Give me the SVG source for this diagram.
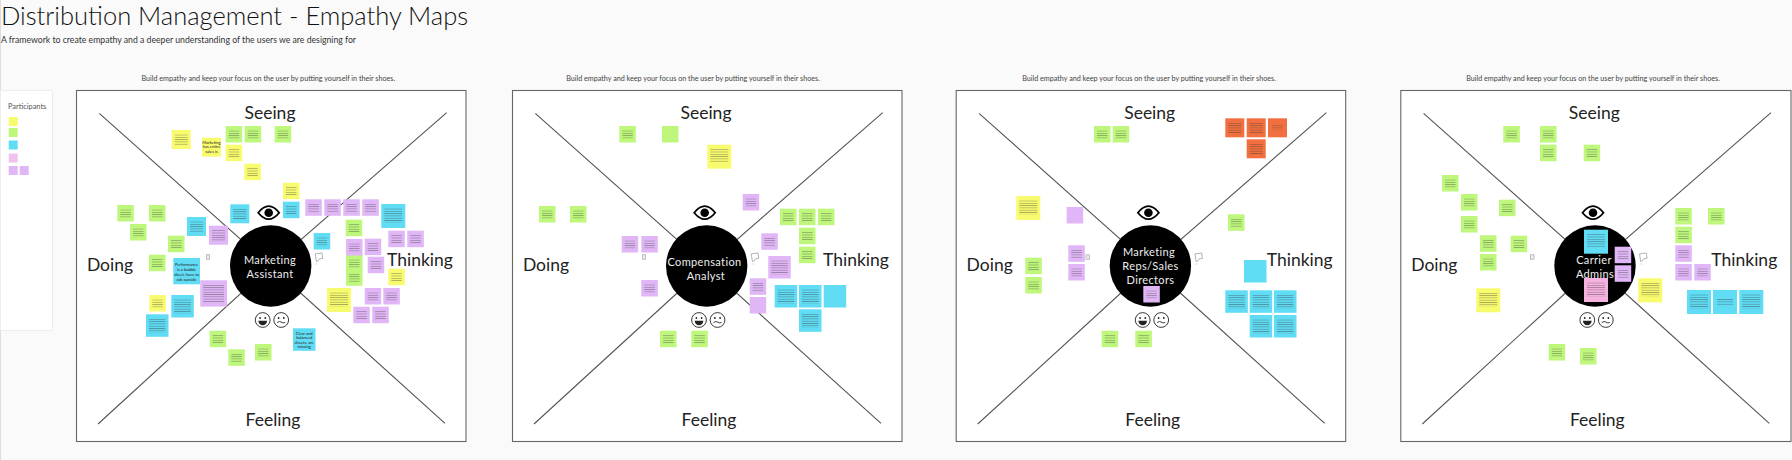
<svg xmlns="http://www.w3.org/2000/svg" width="1792" height="460" viewBox="0 0 1792 460">
<style>
text{font-family:"Lato","Open Sans","Liberation Sans",sans-serif}
.title{font-size:25.500px;font-weight:300;fill:#111}
.sub{font-size:8.700px;fill:#333}
.cap{font-size:7.200px;fill:#444;text-anchor:middle}
.lab{font-size:17.500px;fill:#222;text-anchor:middle}
.role{font-size:11px;fill:#eee;text-anchor:middle;letter-spacing:.35px}
.part{font-size:7.400px;fill:#555}
.st{font-size:4.100px;fill:#222;text-anchor:middle}
.frame{fill:#fff;stroke:#666;stroke-width:1.1}
.conn{stroke:#555;stroke-width:1.1;fill:none}
.ic{fill:none;stroke:#222;stroke-width:.9}
.tx{fill:url(#lines)}
.y{fill:#f8fb6e}.g{fill:#bef77c}.c{fill:#60dcf4}.v{fill:#e0b6f6}.o{fill:#f2703f}.k{fill:#f6b2de}.l{fill:#f0c2ee}
</style>
<defs>
<pattern id="lines" width="10" height="2.300" patternUnits="userSpaceOnUse"><rect width="10" height=".8" fill="#333" opacity=".4"/></pattern>
<rect id="r9" width="9" height="9"/>
<rect id="r16" width="16.500" height="16.500"/>
<rect id="r19" width="19" height="19"/>
<rect id="r22" width="22.500" height="22.500"/>
<rect id="r24" width="24" height="24"/>
<rect id="r26" width="26.700" height="26.300"/>
<g id="b16"><use href="#r16"/><rect class="tx" x="3" y="4.300" width="10.500" height="8.400"/></g>
<g id="b19"><use href="#r19"/><rect class="tx" x="3" y="4.300" width="13" height="11.200"/></g>
<g id="b22"><use href="#r22"/><rect class="tx" x="3" y="4.300" width="16.500" height="14"/></g>
<g id="b24"><use href="#r24"/><rect class="tx" x="3" y="4.300" width="18" height="14"/></g>
<g id="diag" class="conn"><path d="M23.300 23.300L194.700 176M370.700 22.700L194.700 176M22 334L194.700 176M369 333.300L194.700 176"/></g>
<g id="eye"><path d="M-10.500 0Q0 -13 10.500 0Q0 13 -10.500 0Z" fill="#fff" stroke="#000" stroke-width="1.800"/><circle r="4.300" fill="#000"/></g>
<g id="faces">
<circle class="ic" r="7.400"/><circle cx="-2.600" cy="-2" r=".9" fill="#222"/><circle cx="2.600" cy="-2" r=".9" fill="#222"/><path d="M-4.400 .8H4.400Q3.800 5.200 0 5.200Q-3.800 5.200 -4.400 .8Z" fill="#222"/>
<g transform="translate(18.500 0)"><circle class="ic" r="7.400"/><circle cx="-2.600" cy="-2" r=".9" fill="#222"/><circle cx="2.600" cy="-2" r=".9" fill="#222"/><path class="ic" d="M-4 2.500Q-1.500 .8 0 2Q2 3.600 4 2.500"/></g>
</g>
<g id="doicon"><rect x="-1.700" y="-2.200" width="3.400" height="4.400" fill="#eee" stroke="#999" stroke-width=".6"/></g>
<g id="thicon"><path d="M-3.400 -4.600H3.400V.8H0L-2 3H-3.400Z" fill="#fff" stroke="#999" stroke-width=".7" transform="rotate(-8)"/><path d="M-4 6H-1" stroke="#ccc" stroke-width=".6"/></g>
</defs>
<rect width="1792" height="460" fill="#fafafa"/>
<rect width="1" height="460" fill="#ddd"/>
<text class="title" x="1" y="25">Distribution Management - Empathy Maps</text>
<text class="sub" x="1" y="43">A framework to create empathy and a deeper understanding of the users we are designing for</text>

<g id="participants">
<rect x=".5" y="90.500" width="52" height="240" fill="#fff" stroke="#eee"/>
<text class="part" x="8" y="109">Participants</text>
<g class="y" transform="translate(8.700 117)"><use href="#r9"/></g>
<g class="g" transform="translate(8.700 128)"><use href="#r9"/></g>
<g class="c" transform="translate(8.700 140.500)"><use href="#r9"/></g>
<g class="l" transform="translate(8.700 153.500)"><use href="#r9"/></g>
<g class="v" transform="translate(8.700 166)"><use href="#r9"/></g>
<g class="v" transform="translate(19.700 166)"><use href="#r9"/></g>
</g>

<g id="panel-1" transform="translate(76 0)">
<text class="cap" x="192.300" y="81">Build empathy and keep your focus on the user by putting yourself in their shoes.</text>
<rect class="frame" x=".5" y="90.500" width="389.500" height="351"/>
</g>
<g id="panel-2" transform="translate(512 0)">
<text class="cap" x="181" y="81">Build empathy and keep your focus on the user by putting yourself in their shoes.</text>
<rect class="frame" x=".5" y="90.500" width="389.500" height="351"/>
</g>
<g id="panel-3" transform="translate(955.700 0)">
<text class="cap" x="193.300" y="81">Build empathy and keep your focus on the user by putting yourself in their shoes.</text>
<rect class="frame" x=".5" y="90.500" width="389.500" height="351"/>
</g>
<g id="panel-4" transform="translate(1400.300 0)">
<text class="cap" x="192.700" y="81">Build empathy and keep your focus on the user by putting yourself in their shoes.</text>
<rect class="frame" x=".5" y="90.500" width="390.200" height="351"/>
</g>

<g id="connectors">
<use href="#diag" transform="translate(76 90)"/>
<use href="#diag" transform="translate(512 90)"/>
<use href="#diag" transform="translate(955.700 90)"/>
<use href="#diag" transform="translate(1400.300 90)"/>
</g>

<g id="labels-1" transform="translate(76 0)">
<text class="lab" x="194" y="119">Seeing</text><text class="lab" x="34" y="271">Doing</text><text class="lab" x="344" y="266">Thinking</text><text class="lab" x="197" y="426">Feeling</text>
<use href="#eye" x="192.700" y="212.700"/><use href="#faces" x="186.700" y="320"/><use href="#doicon" x="132" y="257"/><use href="#thicon" x="243.300" y="258"/>
</g>
<g id="labels-2" transform="translate(512 0)">
<text class="lab" x="194" y="119">Seeing</text><text class="lab" x="34" y="271">Doing</text><text class="lab" x="344" y="266">Thinking</text><text class="lab" x="197" y="426">Feeling</text>
<use href="#eye" x="192.700" y="212.700"/><use href="#faces" x="187" y="320"/><use href="#doicon" x="132" y="257"/><use href="#thicon" x="243.300" y="258"/>
</g>
<g id="labels-3" transform="translate(955.700 0)">
<text class="lab" x="194" y="119">Seeing</text><text class="lab" x="34" y="271">Doing</text><text class="lab" x="344" y="266">Thinking</text><text class="lab" x="197" y="426">Feeling</text>
<use href="#eye" x="192.700" y="212.700"/><use href="#faces" x="187" y="320"/><use href="#doicon" x="132" y="257"/><use href="#thicon" x="243.300" y="258"/>
</g>
<g id="labels-4" transform="translate(1400.300 0)">
<text class="lab" x="194" y="119">Seeing</text><text class="lab" x="34" y="271">Doing</text><text class="lab" x="344" y="266">Thinking</text><text class="lab" x="197" y="426">Feeling</text>
<use href="#eye" x="192.700" y="212.700"/><use href="#faces" x="187" y="320"/><use href="#doicon" x="132" y="257"/><use href="#thicon" x="243.300" y="258"/>
</g>

<g id="role-1"><circle cx="270.700" cy="266" r="40.700"/><text class="role" x="270" y="264">Marketing</text><text class="role" x="270" y="278">Assistant</text></g>
<g id="role-2"><circle cx="706.700" cy="266" r="40.700"/><text class="role" x="704.500" y="266">Compensation</text><text class="role" x="706" y="280">Analyst</text></g>
<g id="role-3"><circle cx="1150.400" cy="266" r="40.700"/><text class="role" x="1149" y="256">Marketing</text><text class="role" x="1150.500" y="270">Reps/Sales</text><text class="role" x="1150.500" y="284">Directors</text></g>
<g id="role-4"><circle cx="1595" cy="266" r="40.700"/><text class="role" x="1594" y="264">Carrier</text><text class="role" x="1595" y="278">Admins</text></g>

<g id="stickies-1">
<g id="a01" class="y" transform="translate(171.700 130)"><use href="#b19"/></g>
<g id="a02" class="y" transform="translate(202 137.700)"><use href="#r19"/><text class="st" x="9.500" y="6">Marketing</text><text class="st" x="9.500" y="10.500">has entire</text><text class="st" x="9.500" y="15">sales is</text></g>
<g id="a03" class="g" transform="translate(225.700 126)"><use href="#b16"/></g>
<g id="a04" class="g" transform="translate(244.700 126)"><use href="#b16"/></g>
<g id="a05" class="g" transform="translate(274.700 126)"><use href="#b16"/></g>
<g id="a06" class="y" transform="translate(225.700 144.700)"><use href="#b16"/></g>
<g id="a07" class="y" transform="translate(244.300 163.700)"><use href="#b16"/></g>
<g id="a08" class="y" transform="translate(283 182.700)"><use href="#b16"/></g>
<g id="a09" class="c" transform="translate(283 201.700)"><use href="#b16"/></g>
<g id="a10" class="c" transform="translate(230.300 204.300)"><use href="#b19"/></g>
<g id="a11" class="c" transform="translate(187 217)"><use href="#b19"/></g>
<g id="a12" class="v" transform="translate(209 225.700)"><use href="#b19"/></g>
<g id="a13" class="v" transform="translate(305.300 199.300)"><use href="#b16"/></g>
<g id="a14" class="v" transform="translate(324.300 199.300)"><use href="#b16"/></g>
<g id="a15" class="v" transform="translate(343.300 199.300)"><use href="#b16"/></g>
<g id="a16" class="v" transform="translate(362.300 199.300)"><use href="#b16"/></g>
<g id="a17" class="c" transform="translate(381.300 204)"><use href="#b24"/></g>
<g id="a18" class="g" transform="translate(345.700 219.700)"><use href="#b16"/></g>
<g id="a19" class="g" transform="translate(117.300 205)"><use href="#b16"/></g>
<g id="a20" class="g" transform="translate(149 205)"><use href="#b16"/></g>
<g id="a21" class="g" transform="translate(130 224)"><use href="#b16"/></g>
<g id="a22" class="g" transform="translate(168 235.700)"><use href="#b16"/></g>
<g id="a23" class="g" transform="translate(149 254.700)"><use href="#b16"/></g>
<g id="a24" class="c" transform="translate(173.300 258)"><use href="#r26"/><text class="st" x="13.300" y="8">Performance</text><text class="st" x="13.300" y="13">is a bubble</text><text class="st" x="13.300" y="18">sheet, have to</text><text class="st" x="13.300" y="23">ask outside</text></g>
<g id="a25" class="v" transform="translate(200.300 280.300)"><use href="#r26"/><rect class="tx" x="3" y="4" width="20.700" height="18.500"/></g>
<g id="a26" class="y" transform="translate(149.300 295)"><use href="#b16"/></g>
<g id="a27" class="c" transform="translate(171.300 295)"><use href="#b22"/></g>
<g id="a28" class="c" transform="translate(146 314.300)"><use href="#b22"/></g>
<g id="a29" class="g" transform="translate(209.700 330.700)"><use href="#b16"/></g>
<g id="a30" class="g" transform="translate(228.300 349.300)"><use href="#b16"/></g>
<g id="a31" class="g" transform="translate(255 344)"><use href="#b16"/></g>
<g id="a32" class="c" transform="translate(293 328.300)"><use href="#r22"/><text class="st" x="11.200" y="6.500">Clear and</text><text class="st" x="11.200" y="11">balanced</text><text class="st" x="11.200" y="15.500">sheets, are</text><text class="st" x="11.200" y="20">missing</text></g>
<g id="a33" class="c" transform="translate(313.700 233)"><use href="#b16"/></g>
<g id="a35" class="g" transform="translate(346 255)"><use href="#b16"/></g>
<g id="a34" class="v" transform="translate(346 239)"><use href="#b16"/></g>
<g id="a36" class="g" transform="translate(346 269.300)"><use href="#b16"/></g>
<g id="a37" class="v" transform="translate(364.700 238.700)"><use href="#b16"/></g>
<g id="a38" class="v" transform="translate(367.700 256.700)"><use href="#b16"/></g>
<g id="a39" class="v" transform="translate(388.300 230.700)"><use href="#b16"/></g>
<g id="a40" class="v" transform="translate(407.300 230.700)"><use href="#b16"/></g>
<g id="a41" class="y" transform="translate(388.300 268.700)"><use href="#b16"/></g>
<g id="a42" class="y" transform="translate(327 288)"><use href="#b24"/></g>
<g id="a43" class="v" transform="translate(364.700 288)"><use href="#b16"/></g>
<g id="a44" class="v" transform="translate(383.300 288)"><use href="#b16"/></g>
<g id="a45" class="v" transform="translate(353.300 306.700)"><use href="#b16"/></g>
<g id="a46" class="v" transform="translate(372.300 306.700)"><use href="#b16"/></g>
</g>

<g id="stickies-2">
<g id="b01" class="g" transform="translate(619.300 126)"><use href="#b16"/></g>
<g id="b02" class="g" transform="translate(662 126)"><use href="#r16"/></g>
<g id="b03" class="y" transform="translate(707.300 144.700)"><use href="#b24"/></g>
<g id="b04" class="v" transform="translate(742.700 194)"><use href="#b16"/></g>
<g id="b05" class="g" transform="translate(780 208.700)"><use href="#b16"/></g>
<g id="b06" class="g" transform="translate(799 208.700)"><use href="#b16"/></g>
<g id="b07" class="g" transform="translate(818 208.700)"><use href="#b16"/></g>
<g id="b08" class="g" transform="translate(799 227.700)"><use href="#b16"/></g>
<g id="b09" class="g" transform="translate(799 246.700)"><use href="#b16"/></g>
<g id="b10" class="v" transform="translate(761.300 233.300)"><use href="#b16"/></g>
<g id="b11" class="v" transform="translate(768.300 256)"><use href="#b22"/></g>
<g id="b12" class="v" transform="translate(749.700 278.300)"><use href="#b16"/></g>
<g id="b13" class="v" transform="translate(749.700 297)"><use href="#r16"/></g>
<g id="b14" class="c" transform="translate(774.700 285)"><use href="#b22"/></g>
<g id="b15" class="c" transform="translate(799 285)"><use href="#b22"/></g>
<g id="b16n" class="c" transform="translate(823.700 285)"><use href="#r22"/></g>
<g id="b17" class="c" transform="translate(799 309.300)"><use href="#b22"/></g>
<g id="b18" class="g" transform="translate(539 206)"><use href="#b16"/></g>
<g id="b19n" class="g" transform="translate(570 206)"><use href="#b16"/></g>
<g id="b20" class="v" transform="translate(621.700 236)"><use href="#b16"/></g>
<g id="b21" class="v" transform="translate(641.300 236)"><use href="#b16"/></g>
<g id="b22n" class="v" transform="translate(641.300 280)"><use href="#b16"/></g>
<g id="b23" class="g" transform="translate(660 330.700)"><use href="#b16"/></g>
<g id="b24n" class="g" transform="translate(691.300 330.700)"><use href="#b16"/></g>
</g>

<g id="stickies-3">
<g id="d01" class="g" transform="translate(1094 126)"><use href="#b16"/></g>
<g id="d02" class="g" transform="translate(1112.700 126)"><use href="#b16"/></g>
<g id="d03" class="o" transform="translate(1225.300 118.300)"><use href="#b19"/></g>
<g id="d04" class="o" transform="translate(1246.700 118.300)"><use href="#b19"/></g>
<g id="d05" class="o" transform="translate(1268 118.300)"><use href="#r19"/><rect class="tx" x="4" y="7" width="11" height="5"/></g>
<g id="d06" class="o" transform="translate(1246.700 139.300)"><use href="#b19"/></g>
<g id="d07" class="g" transform="translate(1228 214.300)"><use href="#b16"/></g>
<g id="d08" class="y" transform="translate(1016.300 196)"><use href="#b24"/></g>
<g id="d09" class="v" transform="translate(1066.700 207)"><use href="#r16"/></g>
<g id="d10" class="v" transform="translate(1068.300 245.300)"><use href="#b16"/></g>
<g id="d11" class="v" transform="translate(1068.300 264)"><use href="#b16"/></g>
<g id="d12" class="g" transform="translate(1025.300 257.700)"><use href="#b16"/></g>
<g id="d13" class="g" transform="translate(1025.300 277)"><use href="#b16"/></g>
<g id="d14" class="v" transform="translate(1143.300 286)"><use href="#b16"/></g>
<g id="d15" class="c" transform="translate(1244 260)"><use href="#r22"/></g>
<g id="d16" class="c" transform="translate(1225.300 290.300)"><use href="#b22"/></g>
<g id="d17" class="c" transform="translate(1249.700 290.300)"><use href="#b22"/></g>
<g id="d18" class="c" transform="translate(1274 290.300)"><use href="#b22"/></g>
<g id="d19" class="c" transform="translate(1249.700 315)"><use href="#b22"/></g>
<g id="d20" class="c" transform="translate(1274 315)"><use href="#b22"/></g>
<g id="d21" class="g" transform="translate(1101.700 330.700)"><use href="#b16"/></g>
<g id="d22" class="g" transform="translate(1135.300 330.700)"><use href="#b16"/></g>
</g>

<g id="stickies-4">
<g id="e01" class="g" transform="translate(1503.300 126)"><use href="#b16"/></g>
<g id="e02" class="g" transform="translate(1540 126)"><use href="#b16"/></g>
<g id="e03" class="g" transform="translate(1540 144.700)"><use href="#b16"/></g>
<g id="e04" class="g" transform="translate(1583.700 144.700)"><use href="#b16"/></g>
<g id="e05" class="g" transform="translate(1442 175)"><use href="#b16"/></g>
<g id="e06" class="g" transform="translate(1461 194)"><use href="#b16"/></g>
<g id="e07" class="g" transform="translate(1499 199.700)"><use href="#b16"/></g>
<g id="e08" class="g" transform="translate(1461 216)"><use href="#b16"/></g>
<g id="e09" class="g" transform="translate(1480 235.300)"><use href="#b16"/></g>
<g id="e10" class="g" transform="translate(1510.700 235.700)"><use href="#b16"/></g>
<g id="e11" class="g" transform="translate(1480 254)"><use href="#b16"/></g>
<g id="e12" class="y" transform="translate(1476.300 288.300)"><use href="#b24"/></g>
<g id="e13" class="c" transform="translate(1584 229.700)"><use href="#b24"/></g>
<g id="e14" class="v" transform="translate(1614.700 246.700)"><use href="#b16"/></g>
<g id="e15" class="v" transform="translate(1614.700 265.300)"><use href="#b16"/></g>
<g id="e16" class="k" transform="translate(1584 278)"><use href="#b24"/></g>
<g id="e17" class="y" transform="translate(1638.300 278.300)"><use href="#b24"/></g>
<g id="e18" class="g" transform="translate(1675.300 208)"><use href="#b16"/></g>
<g id="e19" class="g" transform="translate(1708 208)"><use href="#b16"/></g>
<g id="e20" class="g" transform="translate(1675.300 226.700)"><use href="#b16"/></g>
<g id="e21" class="v" transform="translate(1675.300 245.300)"><use href="#b16"/></g>
<g id="e22" class="v" transform="translate(1675.300 264)"><use href="#b16"/></g>
<g id="e23" class="v" transform="translate(1694.300 264)"><use href="#b16"/></g>
<g id="e24" class="c" transform="translate(1687 290)"><use href="#b24"/></g>
<g id="e25" class="c" transform="translate(1713 290)"><use href="#r24"/><rect class="tx" x="4" y="8" width="16" height="8"/></g>
<g id="e26" class="c" transform="translate(1739.300 290)"><use href="#b24"/></g>
<g id="e27" class="g" transform="translate(1548.700 344)"><use href="#b16"/></g>
<g id="e28" class="g" transform="translate(1580 348)"><use href="#b16"/></g>
</g>
</svg>
